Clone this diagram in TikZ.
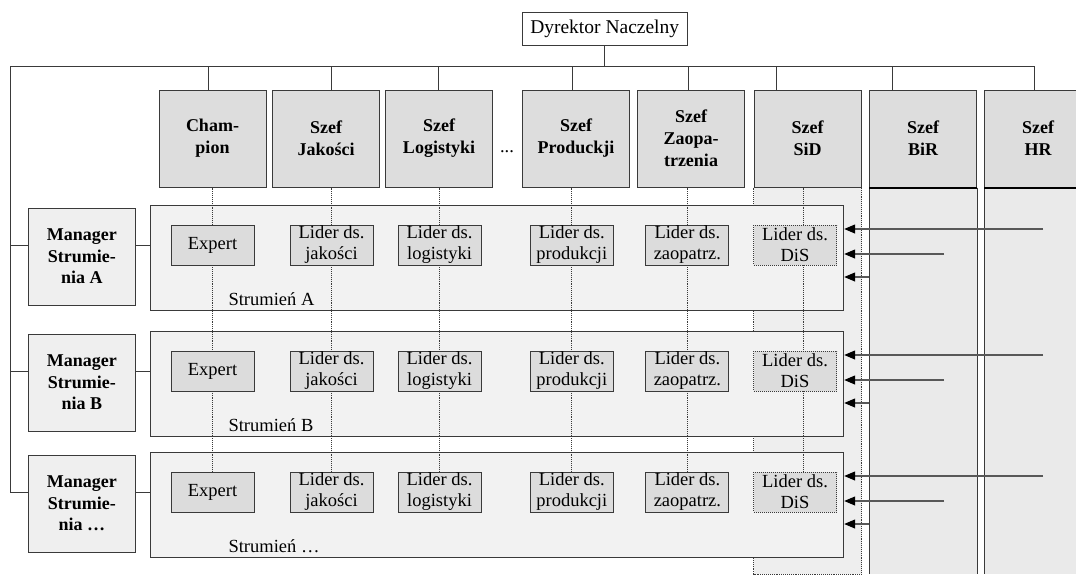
\documentclass[tikz,border=0pt]{standalone}
\usepackage{fontspec}
\setmainfont{Liberation Serif}
\usepackage{tikz}
\usetikzlibrary{calc,arrows.meta}
\definecolor{linec}{HTML}{3A3A3A}
\definecolor{topc}{HTML}{DDDDDD}
\definecolor{manc}{HTML}{EFEFEF}
\definecolor{strc}{HTML}{F2F2F2}
\definecolor{lidc}{HTML}{DCDCDC}
\definecolor{colc}{HTML}{EAEAEA}
\definecolor{sidc}{HTML}{EEEEEE}
\pgfdeclarelayer{back}
\pgfdeclarelayer{mid}
\pgfsetlayers{back,mid,main}
\tikzset{
  ln/.style={draw=linec,line width=1pt},
  topbox/.style={ln,fill=topc,minimum width=107,minimum height=97,inner sep=0pt,align=center,font=\fontsize{18}{22}\selectfont\bfseries},
  manbox/.style={ln,fill=manc,minimum width=107,minimum height=97,inner sep=0pt,align=center,font=\fontsize{18}{21.5}\selectfont\bfseries},
  strbox/.style={ln,fill=strc,minimum width=693,minimum height=105,inner sep=0pt},
  lidbox/.style={ln,fill=lidc,minimum width=83,minimum height=40,inner sep=0pt,align=center},
  disbox/.style={lidbox,densely dotted},
  dotln/.style={draw=linec,line width=0.9pt,densely dotted},
  ar/.style={-{Triangle[length=11pt,width=9pt,black]},draw=linec!85,line width=1.2pt}
}

\begin{document}
\begin{tikzpicture}[x=1pt,y=-1pt,font=\fontsize{18.5}{21}\selectfont]
\useasboundingbox (0,0) rectangle (1076,574);
\coordinate (busL) at (10,66);
\coordinate (bot) at (0,574);
% top level
\node[ln,fill=white,minimum width=165,minimum height=33,inner sep=0pt,font=\fontsize{19.5}{22}\selectfont] (dyr) at (604.7,28.5) {Dyrektor Naczelny};
\node[topbox] (champ) at (212.5,138.5) {Cham-\\pion};
\node[topbox] (jak) at (326,138.5) {Szef\\Jakości};
\node[topbox] (log) at (439,138.5) {Szef\\Logistyki};
\node (dots) at (507,152) {...};
\node[topbox] (prod) at (576,138.5) {Szef\\Produckji};
\node[topbox] (zaop) at (691,138.5) {Szef\\Zaopa-\\trzenia};
\node[topbox] (sid) at (807.5,138.5) {Szef\\SiD};
\node[topbox] (bir) at (923,138.5) {Szef\\BiR};
\node[topbox] (hr) at (1038,138.5) {Szef\\HR};

% columns
\begin{pgfonlayer}{back}
\filldraw[fill=sidc,draw=linec,densely dotted,line width=0.9pt] (sid.south west) rectangle (sid.east |- bot);
\fill[colc] (bir.south west) rectangle (bir.east |- bot);
\fill[colc] (hr.south west) rectangle (hr.east |- bot);
\end{pgfonlayer}
\draw[ln] (bir.south west) -- (bir.west |- bot) (bir.south east) -- (bir.east |- bot)
  (hr.south west) -- (hr.west |- bot);
\draw[line width=2pt] (bir.south west) -- (bir.south east) (hr.south west) -- (hr.south east);

% bus
\draw[ln] (dyr.south) -- (dyr.south |- busL);
\path ([xshift=-4]hr.north) coordinate (hrtop);
\draw[ln] (busL) -- (hrtop |- busL);
\foreach \n/\dx in {champ/-4,jak/5,log/-1,prod/-4,zaop/-3,sid/-31,bir/-31,hr/-4}{
  \path ([xshift=\dx]\n.north) coordinate (st);
  \draw[ln] (st) -- (st |- busL);
}

% streams
\foreach \r/\T/\lab in {A/205/A,B/331/B,C/452/\ldots}{
  \begin{pgfonlayer}{back}
  \node[strbox] (str\r) at (497.2,\T+52.5) {};
  \end{pgfonlayer}
  \node[manbox] (man\r) at (81.8,\T+51.5) {Manager\\Strumie-\\nia \lab};
  \node[lidbox] (exp\r) at (212.5,\T+40) {Expert};
  \node[lidbox] (ljak\r) at (331.5,\T+40) {Lider ds.\\jakości};
  \node[lidbox] (llog\r) at (439.5,\T+40) {Lider ds.\\logistyki};
  \node[lidbox] (lprod\r) at (571.8,\T+40) {Lider ds.\\produkcji};
  \node[lidbox] (lzaop\r) at (687.4,\T+40) {Lider ds.\\zaopatrz.};
  \node[disbox] (ldis\r) at (795,\T+40) {Lider ds.\\DiS};
  \node[anchor=west] (lab\r) at (225,\T+94) {Strumień \lab};
  \draw[ln] (busL) |- (man\r.west |- exp\r.west);
  \draw[ln] (man\r.east |- exp\r.west) -- (str\r.west |- exp\r.west);
  \coordinate (ina\r) at (1043,\T+24);
  \coordinate (inb\r) at (944,\T+49);
  \coordinate (inc\r) at (869,\T+72);
  \foreach \c in {ina,inb,inc}
    \draw[ar] (\c\r) -- (\c\r -| str\r.east);
}

% dotted links
\begin{pgfonlayer}{mid}
\draw[dotln] (champ.south) -- (expC.north);
\foreach \t/\b in {jak/ljakC,log/llogC,prod/lprodC,zaop/lzaopC}
  \draw[dotln] (\b.north |- \t.south) -- (\b.north);
\path ([xshift=8]ldisC.north) coordinate (sidx);
\draw[dotln] (sidx |- sid.south) -- (sidx);
\end{pgfonlayer}
\end{tikzpicture}
\end{document}
